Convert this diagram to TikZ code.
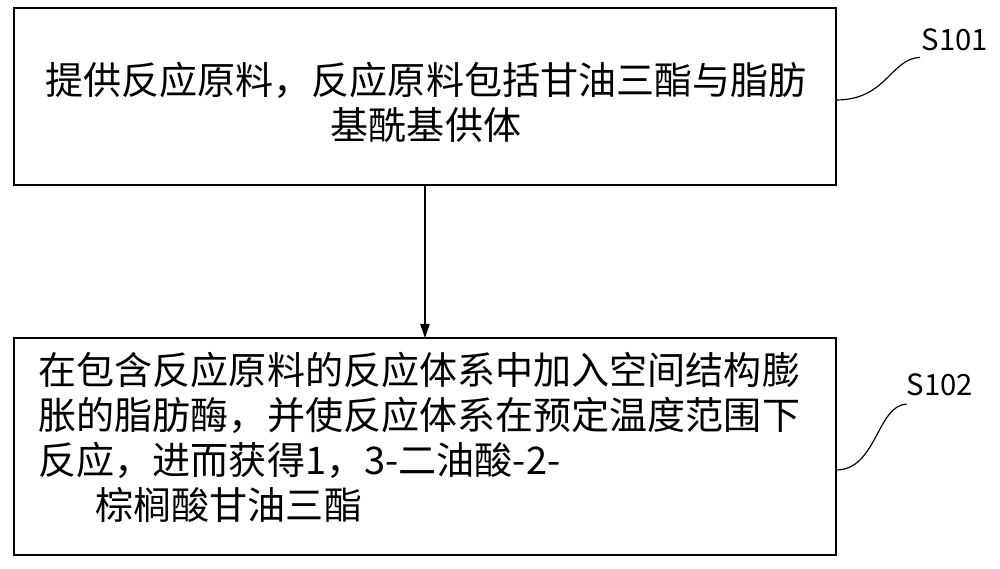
\documentclass[tikz,border=0pt]{standalone}
\usepackage{fontspec}
\setmainfont{Noto Sans CJK SC}
\usetikzlibrary{arrows.meta}

\begin{document}
\begin{tikzpicture}[line width=1pt,
	txt/.style={inner sep=0pt,font=\fontsize{32.5}{36}\selectfont},
	lbl/.style={inner sep=0pt,font=\fontsize{25}{28}\selectfont}]
	\useasboundingbox (0,0) rectangle (30,17.07);
	% boxes
	\draw (0.42,11.52) rectangle (25.08,16.83);
	\draw (0.42,0.42) rectangle (25.08,6.93);
	\coordinate (b1) at (12.75,11.52);
	\coordinate (b2) at (12.75,6.93);
	\draw[-{Triangle[length=12pt,width=8pt]}] (b1) -- (b2);
	% texts of box 1
	\node[txt] (t11) at (12.78,14.67) {提供反应原料，反应原料包括甘油三酯与脂肪};
	\node[txt] (t12) at (12.78,13.32) {基酰基供体};
	% texts of box 2
	\node[txt,anchor=west] (t21) at (1.14,5.97) {在包含反应原料的反应体系中加入空间结构膨};
	\node[txt,anchor=west] (t22) at (1.14,4.62) {胀的脂肪酶，并使反应体系在预定温度范围下};
	\node[txt,anchor=west] (t23) at (1.14,3.27) {反应，进而获得1，3-二油酸-2-};
	\node[txt,anchor=west] (t24) at (2.85,1.92) {棕榈酸甘油三酯};
	% step labels
	\node[lbl] (s1) at (28.65,15.87) {S101};
	\node[lbl] (s2) at (28.2,5.52) {S102};
	\coordinate (c1) at (25.08,14.07);
	\coordinate (c2) at (25.08,2.97);
	\draw (c1) .. controls (26.6,14.07) and (26.7,15.3) .. (27.6,15.35);
	\draw (c2) .. controls (26.3,2.97) and (26.3,4.9) .. (27.2,4.95);
\end{tikzpicture}
\end{document}
